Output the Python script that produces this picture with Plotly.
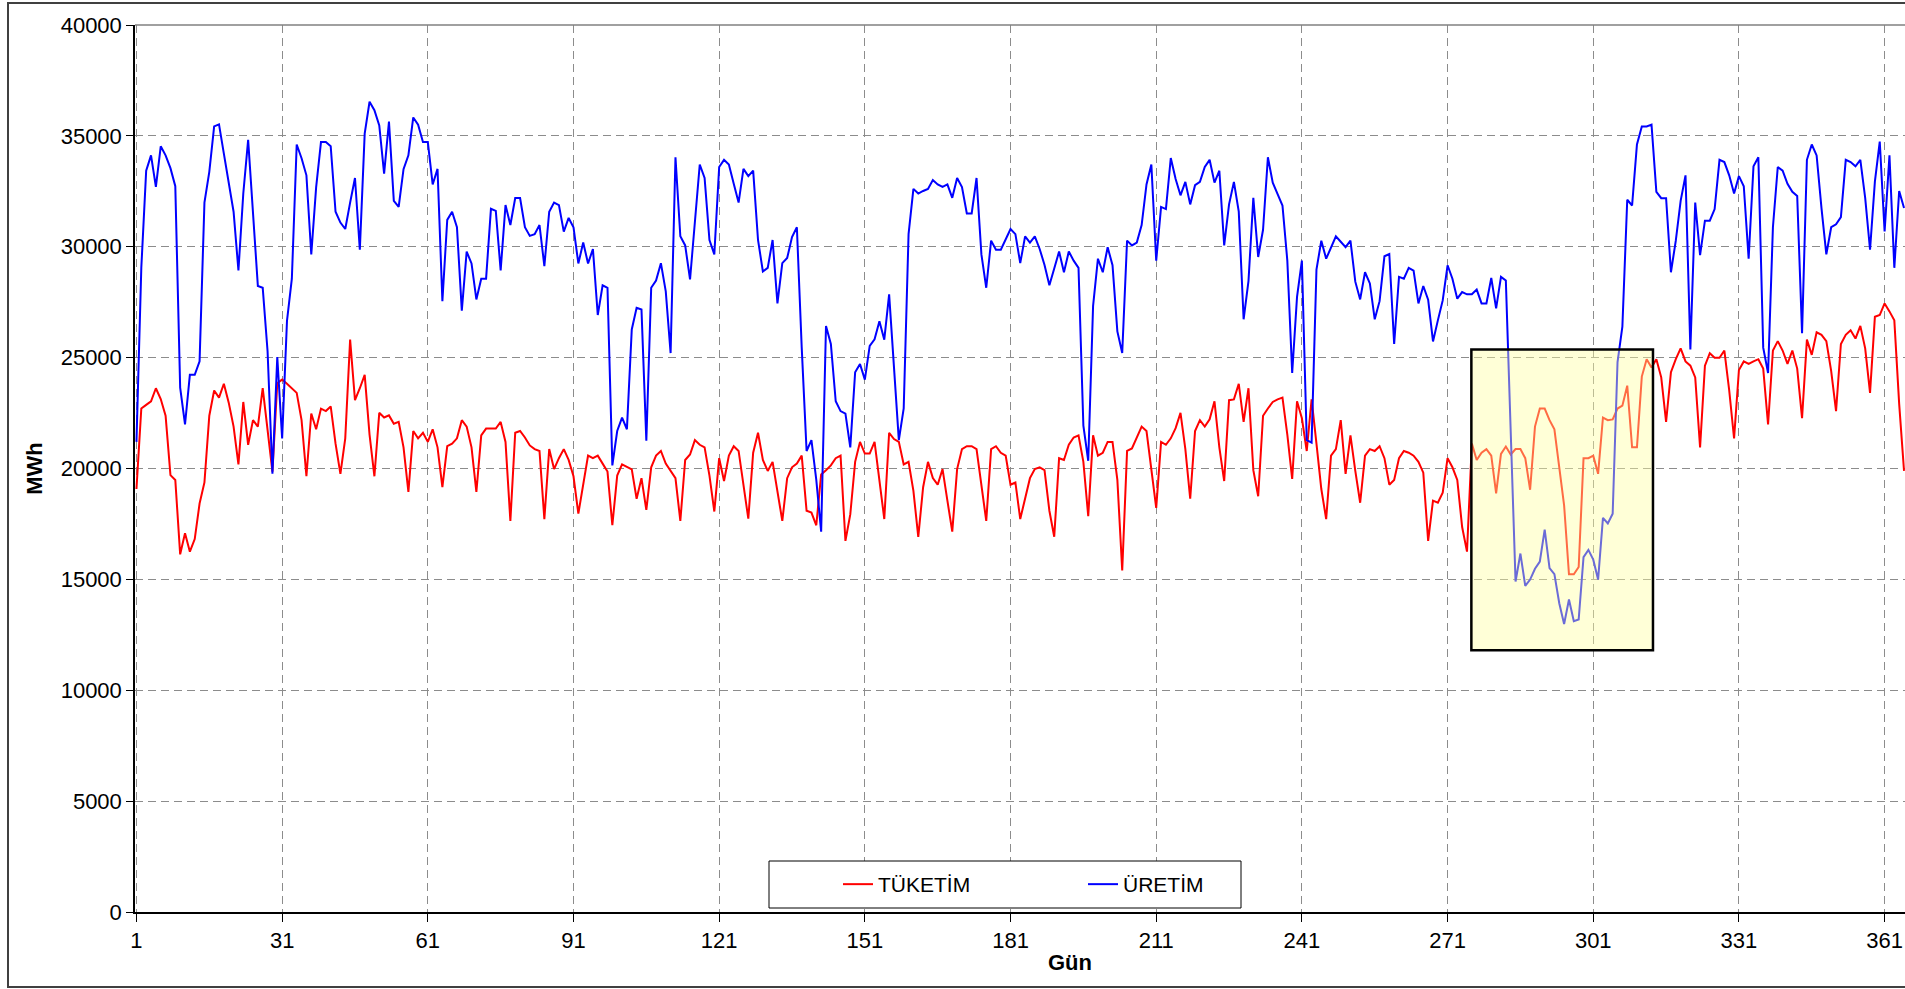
import plotly.graph_objects as go

# ---- data ----
days = list(range(1, 366))

uretim = [  # ÜRETİM (blue), MWh per day
    21200, 29050, 33430, 34120, 32700, 34530, 34120, 33545, 32730, 23650,
    21985, 24225, 24225, 24830, 31990, 33380, 35425, 35520, 34200, 32970,
    31580, 28930, 32400, 34820, 31700, 28230, 28150, 25290, 19760, 25030,
    21360, 26660, 28560, 34610, 33990, 33220, 29650, 32680, 34720, 34720,
    34530, 31580, 31090, 30800, 31990, 33100, 29865, 35100, 36540, 36160,
    35475, 33300, 35640, 32070, 31800, 33500, 34120, 35830, 35500, 34720,
    34720, 32810, 33510, 27540, 31210, 31580, 30880, 27120, 29780, 29245,
    27625, 28560, 28560, 31710, 31615, 28930, 31880, 30980, 32200, 32200,
    30880, 30490, 30570, 30980, 29130, 31580, 31990, 31880, 30680, 31300,
    30880, 29245, 30190, 29245, 29900, 26920, 28260, 28150, 20140, 21690,
    22295, 21770, 26270, 27250, 27170, 21250, 28150, 28475, 29260, 27985,
    25205, 34035, 30470, 30060, 28525, 30930, 33710, 33100, 30305, 29655,
    33595, 33920, 33710, 32840, 31990, 33510, 33185, 33430, 30305, 28885,
    29050, 30305, 27445, 29260, 29490, 30440, 30880, 25450, 20790, 21280,
    19485, 17150, 26430, 25615, 23030, 22590, 22475, 20955, 24340, 24715,
    24010, 25530, 25825, 26640, 25810, 27855, 24340, 21280, 22705, 30570,
    32610, 32400, 32515, 32610, 33005, 32810, 32695, 32810, 32205, 33100,
    32695, 31500, 31500, 33100, 29655, 28150, 30275, 29865, 29865, 30305,
    30800, 30570, 29260, 30470, 30190, 30470, 29900, 29180, 28265, 29015,
    29785, 28850, 29785, 29375, 29050, 21935, 20350, 27330, 29460, 28850,
    29980, 29165, 26185, 25205, 30275, 30060, 30190, 30980, 32810, 33710,
    29375, 31795, 31700, 34000, 33055, 32320, 32925, 31910, 32775, 32925,
    33595, 33920, 32890, 33430, 30060, 31910, 32925, 31580, 26730, 28445,
    32205, 29540, 30765, 34035, 32890, 32370, 31860, 29375, 24305, 27740,
    29375, 21280, 21170, 28965, 30275, 29460, 29980, 30470, 30225, 29980,
    30275, 28425, 27625, 28850, 28345, 26730, 27545, 29570, 29670, 25615,
    28640, 28560, 29050, 28920, 27445, 28230, 27610, 25730, 26680, 27580,
    29165, 28560, 27660, 27955, 27855, 27855, 28070, 27445, 27445, 28590,
    27220, 28640, 28475, 21500, 14905, 16165, 14710, 14990, 15480, 15805,
    17245, 15510, 15235, 13925, 12990, 14090, 13110, 13190, 16000, 16330,
    15890, 14990, 17770, 17520, 17960, 24800, 26400, 32120, 31860, 34610,
    35425, 35425, 35510, 32480, 32190, 32190, 28850, 30275, 32070, 33220,
    25370, 31990, 29620, 31175, 31175, 31700, 33920, 33820, 33220, 32400,
    33185, 32730, 29460, 33630, 34035, 25450, 24305, 30880, 33595, 33430,
    32840, 32480, 32285, 26105, 33920, 34610, 34120, 31745, 29655, 30880,
    31010, 31340, 33920, 33820, 33630, 33920, 32205, 29865, 32940, 34740,
    30685, 34120, 29050, 32515, 31745,
]

tuketim = [  # TÜKETİM (red), MWh per day
    19075, 22705, 22870, 23030, 23620, 23130, 22380, 19700, 19485, 16130,
    17080, 16250, 16820, 18420, 19370, 22380, 23520, 23195, 23820, 22970,
    21890, 20185, 23000, 21070, 22180, 21890, 23620, 21690, 19860, 23850,
    24010, 23820, 23620, 23410, 22180, 19650, 22480, 21770, 22700, 22590,
    22800, 21120, 19760, 21360, 25810, 23080, 23620, 24225, 21530, 19650,
    22510, 22300, 22395, 22020, 22100, 20955, 18945, 21690, 21360, 21610,
    21200, 21770, 20955, 19155, 21005, 21120, 21360, 22180, 21890, 20955,
    18945, 21495, 21800, 21800, 21800, 22100, 21200, 17635, 21610, 21690,
    21400, 21040, 20875, 20790, 17720, 20875, 19975, 20465, 20875, 20385,
    19650, 17965, 19240, 20580, 20465, 20580, 20220, 19860, 17440, 19680,
    20185, 20055, 19960, 18635, 19565, 18130, 20055, 20580, 20790, 20220,
    19890, 19565, 17635, 20385, 20630, 21280, 21070, 20955, 19680, 18060,
    20465, 19435, 20580, 21005, 20790, 19240, 17735, 20710, 21610, 20385,
    19890, 20300, 18990, 17635, 19565, 20055, 20220, 20580, 18095, 18015,
    17440, 19730, 19925, 20140, 20465, 20580, 16735, 17930, 20300, 21200,
    20675, 20675, 21200, 19485, 17720, 21610, 21330, 21200, 20185, 20300,
    18990, 16920, 19155, 20300, 19565, 19270, 19975, 18550, 17150, 19975,
    20875, 21005, 21005, 20875, 19270, 17635, 20875, 21005, 20710, 20580,
    19270, 19370, 17720, 18665, 19565, 19975, 20055, 19925, 18095, 16920,
    20465, 20385, 21070, 21400, 21495, 20300, 17850, 21495, 20580, 20710,
    21200, 21200, 19485, 15400, 20790, 20905, 21360, 21890, 21690, 19890,
    18225, 21200, 21070, 21360, 21820, 22510, 20875, 18635, 21690, 22180,
    21890, 22215, 23030, 20955, 19435, 23080, 23115, 23820, 22100, 23620,
    19925, 18750, 22380, 22705, 23000, 23115, 23195, 21525, 19530, 23030,
    22265, 20790, 23115, 21120, 19075, 17720, 20580, 20875, 22180, 19760,
    21495, 19890, 18455, 20580, 20875, 20790, 21005, 20465, 19270, 19485,
    20465, 20790, 20710, 20580, 20300, 19810, 16735, 18550, 18455, 18910,
    20465, 20055, 19485, 17360, 16250, 21120, 20385, 20710, 20875, 20580,
    18880, 20660, 20990, 20630, 20875, 20875, 20465, 19040, 21890, 22705,
    22705, 22180, 21770, 20055, 18340, 15230, 15230, 15560, 20465, 20465,
    20580, 19760, 22300, 22180, 22215, 22705, 22835, 23735, 20955, 20955,
    24145, 24930, 24550, 24930, 24110, 22100, 24340, 24930, 25420, 24830,
    24635, 24110, 20955, 24635, 25200, 24995, 24995, 25320, 23520, 21360,
    24440, 24830, 24715, 24830, 24930, 24505, 21985, 25320, 25745, 25320,
    24715, 25320, 24505, 22265, 25810, 25125, 26140, 26025, 25745, 24390,
    22590, 25615, 26025, 26235, 25860, 26430, 25420, 23410, 26840, 26920,
    27445, 27085, 26680, 22915, 19890,
]

x_ticks = list(range(1, 362, 30))
y_ticks = list(range(0, 40001, 5000))

# highlighted region (days / MWh)
box_days = [275.9, 313.3]
box_mwh = [11800, 25370]

# ---- layout geometry (page pixels) ----
W, H = 1905, 989
ML, MR, MT, MB = 135, 0, 25, 77
PW, PH = W - ML - MR, H - MT - MB


def px(p):
    return (p - ML) / PW


def py(p):
    return (H - MB - p) / PH


font_main = "Liberation Sans, Arial, sans-serif"

fig = go.Figure()
fig.add_trace(go.Scatter(x=days, y=tuketim, mode="lines", name="TÜKETİM",
                         line=dict(color="#FF0000", width=2)))
fig.add_trace(go.Scatter(x=days, y=uretim, mode="lines", name="ÜRETİM",
                         line=dict(color="#0000FF", width=2)))

shapes = [
    # highlighted region (semi-transparent yellow above the lines)
    dict(type="rect", xref="x", yref="y", x0=box_days[0], x1=box_days[1],
         y0=box_mwh[0], y1=box_mwh[1], fillcolor="rgba(255,255,160,0.42)",
         line=dict(color="black", width=2.5), layer="above"),
    # legend box
    dict(type="rect", xref="paper", yref="paper", x0=px(769), x1=px(1241),
         y0=py(908), y1=py(861), fillcolor="white",
         line=dict(color="black", width=1), layer="above"),
    # top border of plot area
    dict(type="line", xref="paper", yref="paper", x0=0, x1=1, y0=1, y1=1,
         line=dict(color="#808080", width=1.5), layer="above"),
    # outer chart frame
    dict(type="rect", xref="paper", yref="paper", x0=px(8), x1=px(1915),
         y0=py(987), y1=py(3), line=dict(color="#404040", width=2),
         fillcolor="rgba(0,0,0,0)", layer="above"),
]

annotations = [
    dict(text="<b>Gün</b>", xref="paper", yref="paper", x=px(1070), y=py(963),
         xanchor="center", yanchor="middle", showarrow=False,
         font=dict(family=font_main, size=22, color="black")),
]

fig.update_layout(
    width=W, height=H,
    margin=dict(l=ML, r=MR, t=MT, b=MB),
    paper_bgcolor="white", plot_bgcolor="white",
    font=dict(family=font_main, size=22, color="black"),
    shapes=shapes,
    annotations=annotations,
    showlegend=True,
    legend=dict(orientation="h", x=px(838), xanchor="left",
                y=py(884.5), yanchor="middle",
                bgcolor="rgba(0,0,0,0)", borderwidth=0,
                font=dict(family=font_main, size=21, color="black"),
                entrywidth=200, entrywidthmode="pixels", itemwidth=30),
    xaxis=dict(range=[0.7, 365.2], tickmode="array", tickvals=x_ticks,
               ticktext=[str(v) for v in x_ticks],
               showline=True, linecolor="black", linewidth=1.5,
               ticks="outside", ticklen=8, tickcolor="black", tickwidth=1.2,
               showgrid=True, gridcolor="#8c8c8c", gridwidth=1,
               griddash="8px,5px", zeroline=False,
               tickfont=dict(family=font_main, size=22)),
    yaxis=dict(range=[0, 40000], tickmode="array", tickvals=y_ticks,
               ticktext=[str(v) for v in y_ticks],
               showline=True, linecolor="black", linewidth=1.5,
               ticks="outside", ticklen=7, tickcolor="black", tickwidth=1.2,
               showgrid=True, gridcolor="#8c8c8c", gridwidth=1,
               griddash="8px,5px", zeroline=False,
               tickfont=dict(family=font_main, size=22),
               title=dict(text="<b>MWh</b>", standoff=12,
                          font=dict(family=font_main, size=22))),
)

fig.write_html(
    "out.html",
    config={"displayModeBar": False},
    post_script="document.body.style.margin='0';"
                "document.body.style.overflow='hidden';",
)
